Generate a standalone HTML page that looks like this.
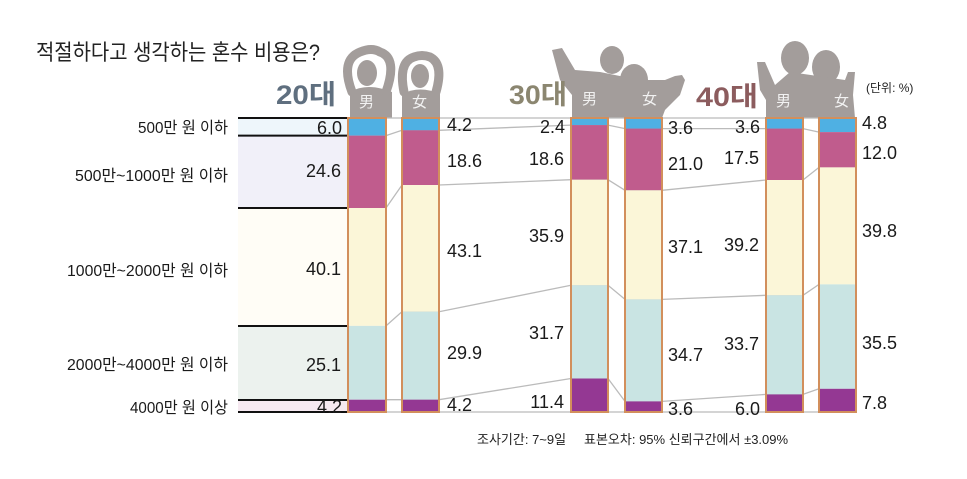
<!DOCTYPE html>
<html><head><meta charset="utf-8"><style>
html,body{margin:0;padding:0;background:#fff;width:967px;height:479px;overflow:hidden}
text{font-family:"Liberation Sans","Noto Sans CJK KR",sans-serif}
.n{font-size:18px;fill:#1a1a1a}
.l{font-size:16px;fill:#1a1a1a}
</style></head><body>
<svg width="967" height="479" viewBox="0 0 967 479" xmlns="http://www.w3.org/2000/svg">
<text x="36" y="60" textLength="284" lengthAdjust="spacingAndGlyphs" style="font-size:22px;fill:#222">적절하다고 생각하는 혼수 비용은?</text>
<!-- silhouettes -->
<g fill="#a39d9b">
 <ellipse cx="367" cy="73" rx="10" ry="13"/><path d="M350 118 L350 92 Q367 82 392 92 L392 118Z"/>
 <ellipse cx="420" cy="76" rx="9" ry="12"/><path d="M402 118 L402 94 Q420 85 440 94 L440 118Z"/>
 <ellipse cx="612" cy="60" rx="12" ry="14"/><ellipse cx="634" cy="80" rx="14" ry="16"/>
 <path d="M552 50 L562 48 L575 70 L600 72 L640 80 L665 80 L675 76 L682 75 L685 80 L680 95 L665 110 L662 118 L572 118 L572 95 L560 80Z"/>
 <ellipse cx="795" cy="58" rx="14" ry="17"/><ellipse cx="826" cy="67" rx="14" ry="17"/>
 <path d="M757 62 L765 62 L775 85 L790 72 L845 80 L848 72 L855 72 L853 95 L855 118 L766 118 L766 100 L760 90Z"/>
</g>
<g fill="none" stroke="#a39d9b" stroke-width="9" stroke-linecap="round">
 <path d="M352 92 Q340 60 360 52 Q372 47 380 52 Q398 58 386 92"/>
 <path d="M404 92 Q398 62 414 57 Q422 54 430 57 Q444 64 436 92"/>
</g>
<g style="font-size:15px;fill:#f2f2f2"><text x="359" y="107">男</text><text x="412" y="107">女</text>
<text x="582" y="104">男</text><text x="642" y="104">女</text><text x="776" y="106">男</text><text x="834" y="106">女</text></g>
<text x="276" y="104" textLength="60" lengthAdjust="spacingAndGlyphs" style="font-size:27px;font-weight:bold;fill:#5f6f7f">20대</text>
<text x="509" y="104" textLength="58" lengthAdjust="spacingAndGlyphs" style="font-size:27px;font-weight:bold;fill:#8b8670">30대</text>
<text x="696" y="106" textLength="62" lengthAdjust="spacingAndGlyphs" style="font-size:27px;font-weight:bold;fill:#8c5c5e">40대</text>
<text x="866" y="92" style="font-size:12px;fill:#222">(단위: %)</text>
<!-- left legend bands -->
<rect x="238" y="118" width="110" height="17.6" fill="#eef6fb"/>
<rect x="238" y="135.6" width="110" height="72.4" fill="#f1f0f9"/>
<rect x="238" y="208" width="110" height="118" fill="#fffdf6"/>
<rect x="238" y="326" width="110" height="74" fill="#ecf2ee"/>
<rect x="238" y="400" width="110" height="12" fill="#f6e9f1"/>
<g stroke="#111" stroke-width="2"><line x1="238" y1="118" x2="348" y2="118"/><line x1="238" y1="135.6" x2="348" y2="135.6"/><line x1="238" y1="208" x2="348" y2="208"/><line x1="238" y1="326" x2="348" y2="326"/><line x1="238" y1="400" x2="348" y2="400"/><line x1="238" y1="412" x2="348" y2="412"/></g>
<g class="l">
 <text x="138" y="133" textLength="90" lengthAdjust="spacingAndGlyphs">500만 원 이하</text>
 <text x="75" y="181" textLength="153" lengthAdjust="spacingAndGlyphs">500만~1000만 원 이하</text>
 <text x="67" y="276" textLength="161" lengthAdjust="spacingAndGlyphs">1000만~2000만 원 이하</text>
 <text x="67" y="370" textLength="161" lengthAdjust="spacingAndGlyphs">2000만~4000만 원 이하</text>
 <text x="130" y="413" textLength="98" lengthAdjust="spacingAndGlyphs">4000만 원 이상</text>
</g>
<!-- connectors -->
<g stroke="#bbb" stroke-width="1.3" fill="none">
 <polyline points="386,118 402,118 439,118 571,118 608,118 625,118 662,118 766,118 803,118 819,118"/>
 <polyline points="386,135.6 402,130.3 439,130.3 571,125.1 608,125.1 625,128.6 662,128.6 766,128.6 803,128.6 819,132.1"/>
 <polyline points="386,208 402,185 439,185 571,179.7 608,179.7 625,190.3 662,190.3 766,180 803,180 819,167.4"/>
 <polyline points="386,325.9 402,311.7 439,311.7 571,285.3 608,285.3 625,299.4 662,299.4 766,295.3 803,295.3 819,284.4"/>
 <polyline points="386,399.7 402,399.7 439,399.7 571,378.5 608,378.5 625,401.4 662,401.4 766,394.4 803,394.4 819,388.8"/>
 <polyline points="386,412 819,412"/>
</g>
<!-- bars -->
<g stroke="none">
 <rect x="348" y="118" width="38" height="17.6" fill="#4fb0e3"/><rect x="348" y="135.6" width="38" height="72.4" fill="#c05c8d"/><rect x="348" y="208" width="38" height="117.9" fill="#fbf6d8"/><rect x="348" y="325.9" width="38" height="73.8" fill="#c9e4e3"/><rect x="348" y="399.7" width="38" height="12.3" fill="#943893"/>
 <rect x="402" y="118" width="37" height="12.3" fill="#4fb0e3"/><rect x="402" y="130.3" width="37" height="54.7" fill="#c05c8d"/><rect x="402" y="185" width="37" height="126.7" fill="#fbf6d8"/><rect x="402" y="311.7" width="37" height="88" fill="#c9e4e3"/><rect x="402" y="399.7" width="37" height="12.3" fill="#943893"/>
 <rect x="571" y="118" width="37" height="7.1" fill="#4fb0e3"/><rect x="571" y="125.1" width="37" height="54.6" fill="#c05c8d"/><rect x="571" y="179.7" width="37" height="105.6" fill="#fbf6d8"/><rect x="571" y="285.3" width="37" height="93.2" fill="#c9e4e3"/><rect x="571" y="378.5" width="37" height="33.5" fill="#943893"/>
 <rect x="625" y="118" width="37" height="10.6" fill="#4fb0e3"/><rect x="625" y="128.6" width="37" height="61.7" fill="#c05c8d"/><rect x="625" y="190.3" width="37" height="109.1" fill="#fbf6d8"/><rect x="625" y="299.4" width="37" height="102" fill="#c9e4e3"/><rect x="625" y="401.4" width="37" height="10.6" fill="#943893"/>
 <rect x="766" y="118" width="37" height="10.6" fill="#4fb0e3"/><rect x="766" y="128.6" width="37" height="51.4" fill="#c05c8d"/><rect x="766" y="180" width="37" height="115.3" fill="#fbf6d8"/><rect x="766" y="295.3" width="37" height="99.1" fill="#c9e4e3"/><rect x="766" y="394.4" width="37" height="17.6" fill="#943893"/>
 <rect x="819" y="118" width="37" height="14.1" fill="#4fb0e3"/><rect x="819" y="132.1" width="37" height="35.3" fill="#c05c8d"/><rect x="819" y="167.4" width="37" height="117" fill="#fbf6d8"/><rect x="819" y="284.4" width="37" height="104.4" fill="#c9e4e3"/><rect x="819" y="388.8" width="37" height="23.2" fill="#943893"/>
</g>
<g fill="none" stroke="#d28f5c" stroke-width="2">
 <rect x="348" y="118" width="38" height="294"/><rect x="402" y="118" width="37" height="294"/>
 <rect x="571" y="118" width="37" height="294"/><rect x="625" y="118" width="37" height="294"/>
 <rect x="766" y="118" width="37" height="294"/><rect x="819" y="118" width="37" height="294"/>
</g>
<!-- numbers -->
<g class="n" text-anchor="end">
 <text x="342" y="134">6.0</text><text x="341" y="177">24.6</text><text x="341" y="275">40.1</text><text x="341" y="371">25.1</text><text x="342" y="413">4.2</text>
 <text x="565" y="133">2.4</text><text x="564" y="165">18.6</text><text x="564" y="242">35.9</text><text x="564" y="339">31.7</text><text x="564" y="408">11.4</text>
 <text x="760" y="133">3.6</text><text x="759" y="164">17.5</text><text x="759" y="251">39.2</text><text x="759" y="350">33.7</text><text x="760" y="415">6.0</text>
</g>
<g class="n">
 <text x="447" y="131">4.2</text><text x="447" y="167">18.6</text><text x="447" y="257">43.1</text><text x="447" y="359">29.9</text><text x="447" y="411">4.2</text>
 <text x="668" y="134">3.6</text><text x="668" y="170">21.0</text><text x="668" y="253">37.1</text><text x="668" y="361">34.7</text><text x="668" y="415">3.6</text>
 <text x="862" y="129">4.8</text><text x="862" y="159">12.0</text><text x="862" y="237">39.8</text><text x="862" y="349">35.5</text><text x="862" y="409">7.8</text>
</g>
<text x="477" y="444" style="font-size:13px;fill:#222">조사기간: 7~9일</text>
<text x="584" y="444" style="font-size:13px;fill:#222">표본오차: 95% 신뢰구간에서 ±3.09%</text>
</svg>
</body></html>
